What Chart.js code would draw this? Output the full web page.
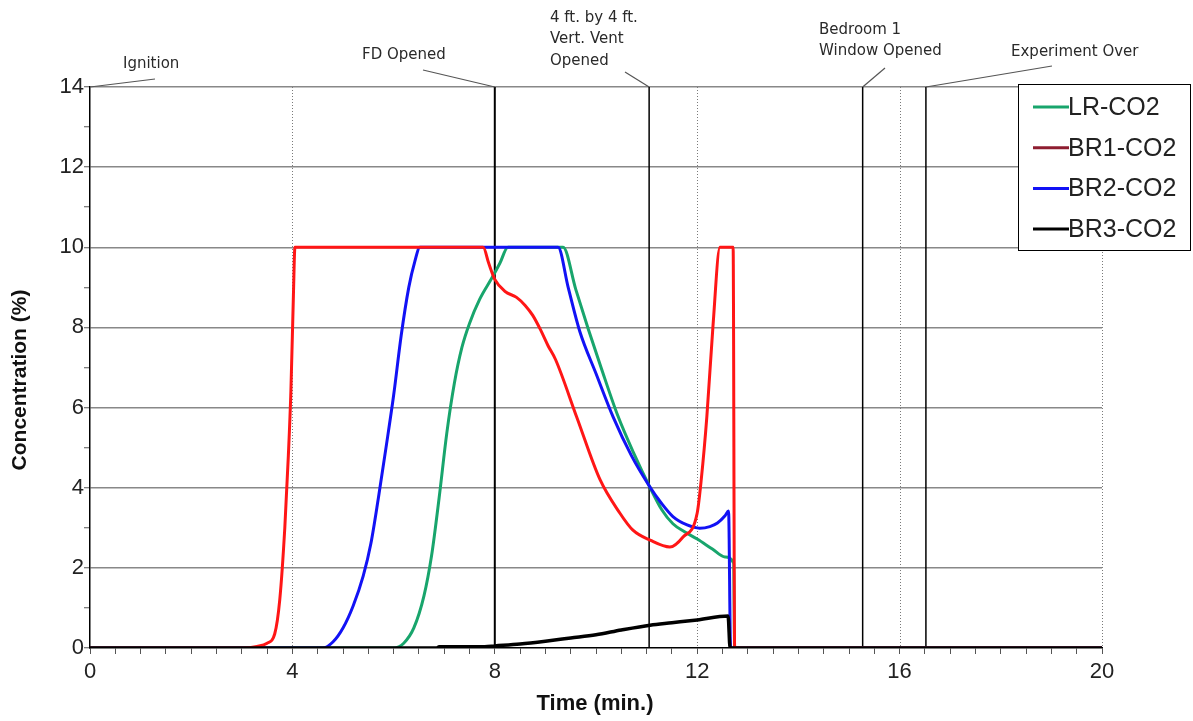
<!DOCTYPE html>
<html>
<head>
<meta charset="utf-8">
<script src="https://cdn.jsdelivr.net/npm/chart.js@4/dist/chart.umd.min.js"></script>
<style>
html,body{margin:0;padding:0;background:#fff;}
#wrap{width:1193px;height:721px;position:relative;}
</style>
</head>
<body>
<div id="wrap"><canvas id="c" width="1193" height="721"></canvas></div>
<script>
// ---- data ----
const lrTime = [0, 6.0, 6.2, 6.4, 6.6, 6.75, 6.9, 7.05, 7.2, 7.35, 7.5, 7.7, 7.95, 8.1, 8.26, 9.35, 9.6, 9.85, 10.1, 10.43, 10.75, 11.05, 11.3, 11.52, 11.75, 12.0, 12.3, 12.55, 12.72, 12.74, 20];
const lrCO2  = [0, 0, 0.12, 0.5, 1.3, 2.3, 3.75, 5.35, 6.6, 7.5, 8.1, 8.7, 9.25, 9.6, 10, 10, 8.95, 7.95, 7.0, 5.8, 4.85, 4.05, 3.45, 3.1, 2.9, 2.72, 2.47, 2.27, 2.12, 0, 0];

const br1Time = [0, 3.0, 3.3, 3.5, 3.65, 3.75, 3.85, 3.92, 3.97, 4.02, 4.05, 7.77, 7.88, 8.0, 8.2, 8.43, 8.6, 8.75, 8.9, 9.05, 9.2, 9.62, 10.08, 10.47, 10.73, 11.07, 11.46, 11.72, 12.0, 12.08, 12.19, 12.31, 12.45, 12.71, 12.74, 20];
const br1CO2  = [0, 0, 0.04, 0.12, 0.35, 1.2, 3.0, 4.8, 6.4, 8.8, 10, 10, 9.6, 9.2, 8.9, 8.75, 8.55, 8.3, 7.95, 7.55, 7.2, 5.76, 4.2, 3.37, 2.94, 2.69, 2.52, 2.77, 3.37, 4.2, 5.76, 8.0, 10, 10, 0, 0];

const br2Time = [0, 4.6, 4.8, 5.0, 5.2, 5.4, 5.55, 5.7, 5.85, 6.0, 6.15, 6.3, 6.42, 6.52, 9.25, 9.45, 9.68, 10.0, 10.34, 10.7, 11.05, 11.3, 11.52, 11.8, 12.05, 12.25, 12.4, 12.55, 12.62, 12.66, 20];
const br2CO2  = [0, 0, 0.15, 0.5, 1.05, 1.8, 2.6, 3.75, 5.0, 6.3, 7.8, 9.0, 9.65, 10, 10, 9.0, 7.9, 6.85, 5.76, 4.8, 4.05, 3.6, 3.28, 3.07, 2.99, 3.03, 3.12, 3.3, 3.42, 0, 0];

const br3Time = [0, 6.85, 6.9, 7.8, 8.0, 8.5, 9.0, 9.5, 10.0, 10.5, 11.07, 11.5, 12.0, 12.61, 12.65, 20];
const br3CO2  = [0, 0, 0.03, 0.03, 0.05, 0.1, 0.17, 0.25, 0.33, 0.45, 0.57, 0.63, 0.7, 0.8, 0, 0];

const seriesNames = ['LR-CO2', 'BR1-CO2', 'BR2-CO2', 'BR3-CO2'];
const xTickLabels = [0, 4, 8, 12, 16, 20];
const yTickLabels = [0, 2, 4, 6, 8, 10, 12, 14];
const dottedGridTimes = [4, 12, 16, 20];
const eventTimes = [0, 8.0, 11.05, 15.27, 16.52];
const eventLabels = [['Ignition'], ['FD Opened'], ['4 ft. by 4 ft.', 'Vert. Vent', 'Opened'], ['Bedroom 1', 'Window Opened'], ['Experiment Over']];

// ---- layout/style (not data) ----
const labelLayout = [
  {x: 123, y: 64, lx: 155, ly: 79},
  {x: 362, y: 55, lx: 423, ly: 70},
  {x: 550, y: 18, lx: 625, ly: 72},
  {x: 819, y: 30, lx: 885, ly: 68},
  {x: 1011, y: 52, lx: 1052, ly: 66}
];
const eventLineWidth = [0, 2, 1.5, 1.5, 1.5];

function pts(t, v) { return t.map((x, i) => ({x: x, y: v[i]})); }

const datasets = [
  {label: seriesNames[0], data: pts(lrTime, lrCO2), borderColor: '#18a56c', legendColor: '#18a56c', borderWidth: 3, order: 4},
  {label: seriesNames[1], data: pts(br1Time, br1CO2), borderColor: '#ff1616', legendColor: '#8e1d30', borderWidth: 3, order: 2},
  {label: seriesNames[2], data: pts(br2Time, br2CO2), borderColor: '#1212f5', legendColor: '#1212f5', borderWidth: 3, order: 3},
  {label: seriesNames[3], data: pts(br3Time, br3CO2), borderColor: '#000000', legendColor: '#000000', borderWidth: 3.5, order: 1}
];
datasets.forEach(d => { d.pointRadius = 0; d.cubicInterpolationMode = 'monotone'; d.fill = false; });

const decorPlugin = {
  id: 'decor',
  beforeDatasetsDraw(chart) {
    const ctx = chart.ctx, a = chart.chartArea, xs = chart.scales.x;
    ctx.save();
    ctx.strokeStyle = '#7a7a7a';
    ctx.lineWidth = 1;
    ctx.setLineDash([1, 2]);
    dottedGridTimes.forEach(t => {
      const px = Math.round(xs.getPixelForValue(t)) + 0.5;
      ctx.beginPath(); ctx.moveTo(px, a.top); ctx.lineTo(px, a.bottom); ctx.stroke();
    });
    ctx.setLineDash([]);
    ctx.strokeStyle = '#000';
    eventTimes.forEach((t, i) => {
      if (!eventLineWidth[i]) return;
      const px = xs.getPixelForValue(t);
      ctx.lineWidth = eventLineWidth[i];
      ctx.beginPath(); ctx.moveTo(px, a.top); ctx.lineTo(px, a.bottom); ctx.stroke();
    });
    ctx.restore();
  },
  afterDraw(chart) {
    const ctx = chart.ctx, a = chart.chartArea, xs = chart.scales.x;
    ctx.save();
    // event labels + leaders
    ctx.font = '15px "DejaVu Sans"';
    ctx.fillStyle = '#2a2a2a';
    ctx.textBaseline = 'middle';
    ctx.textAlign = 'left';
    eventLabels.forEach((lines, i) => {
      const L = labelLayout[i];
      lines.forEach((s, j) => ctx.fillText(s, L.x, L.y + j * 21.5));
      ctx.strokeStyle = '#555';
      ctx.lineWidth = 1.2;
      ctx.beginPath();
      ctx.moveTo(L.lx, L.ly);
      ctx.lineTo(xs.getPixelForValue(eventTimes[i]), a.top);
      ctx.stroke();
    });
    // axis titles
    ctx.fillStyle = '#111';
    ctx.font = 'bold 22px "Liberation Sans", Arial, sans-serif';
    ctx.textAlign = 'center';
    ctx.fillText('Time (min.)', 595, 704);
    ctx.save();
    ctx.translate(20, 380);
    ctx.rotate(-Math.PI / 2);
    ctx.font = 'bold 21px "Liberation Sans", Arial, sans-serif';
    ctx.fillText('Concentration (%)', 0, 0);
    ctx.restore();
    // legend
    const bx = 1018.5, by = 84.5, bw = 172, bh = 166;
    ctx.fillStyle = '#fff';
    ctx.fillRect(bx, by, bw, bh);
    ctx.strokeStyle = '#000';
    ctx.lineWidth = 1;
    ctx.strokeRect(bx, by, bw, bh);
    ctx.font = '25px "Liberation Sans", Arial, sans-serif';
    ctx.textAlign = 'left';
    chart.data.datasets.forEach((d, i) => {
      const y = 107 + i * 40.7;
      ctx.strokeStyle = d.legendColor;
      ctx.lineWidth = 3;
      ctx.beginPath(); ctx.moveTo(1033, y); ctx.lineTo(1069, y); ctx.stroke();
      ctx.fillStyle = '#222';
      ctx.fillText(d.label, 1068, y + 1);
    });
    ctx.restore();
  }
};

new Chart(document.getElementById('c'), {
  type: 'line',
  data: {datasets: datasets},
  plugins: [decorPlugin],
  options: {
    responsive: false,
    animation: false,
    layout: {padding: {top: 87, right: 91, bottom: 0, left: 0}},
    plugins: {legend: {display: false}, tooltip: {enabled: false}},
    scales: {
      x: {
        type: 'linear', min: 0, max: 20,
        afterFit(s) { s.height = 73; },
        afterBuildTicks(s) { s.ticks = []; for (let i = 0; i <= 40; i++) s.ticks.push({value: i * 0.5}); },
        ticks: {
          autoSkip: false, maxRotation: 0, padding: 5, color: '#222',
          font: {family: '"Liberation Sans", Arial, sans-serif', size: 22},
          callback: v => xTickLabels.includes(v) ? String(v) : ''
        },
        grid: {drawOnChartArea: false, drawTicks: true, tickLength: 6, tickColor: '#555', tickWidth: 1},
        border: {color: '#000', width: 1.5}
      },
      y: {
        type: 'linear', min: 0, max: 14,
        afterFit(s) { s.width = 90; },
        afterBuildTicks(s) { s.ticks = []; for (let i = 0; i <= 14; i++) s.ticks.push({value: i}); },
        ticks: {
          autoSkip: false, padding: 0, color: '#222',
          font: {family: '"Liberation Sans", Arial, sans-serif', size: 22},
          callback: v => yTickLabels.includes(v) ? String(v) : ''
        },
        grid: {
          color: c => (c.tick && yTickLabels.includes(c.tick.value) && c.tick.value > 0) ? '#888' : 'rgba(0,0,0,0)',
          lineWidth: 1.5, tickLength: 6, tickColor: '#555', tickWidth: 1
        },
        border: {color: '#000', width: 1.5}
      }
    }
  }
});
</script>
</body>
</html>
